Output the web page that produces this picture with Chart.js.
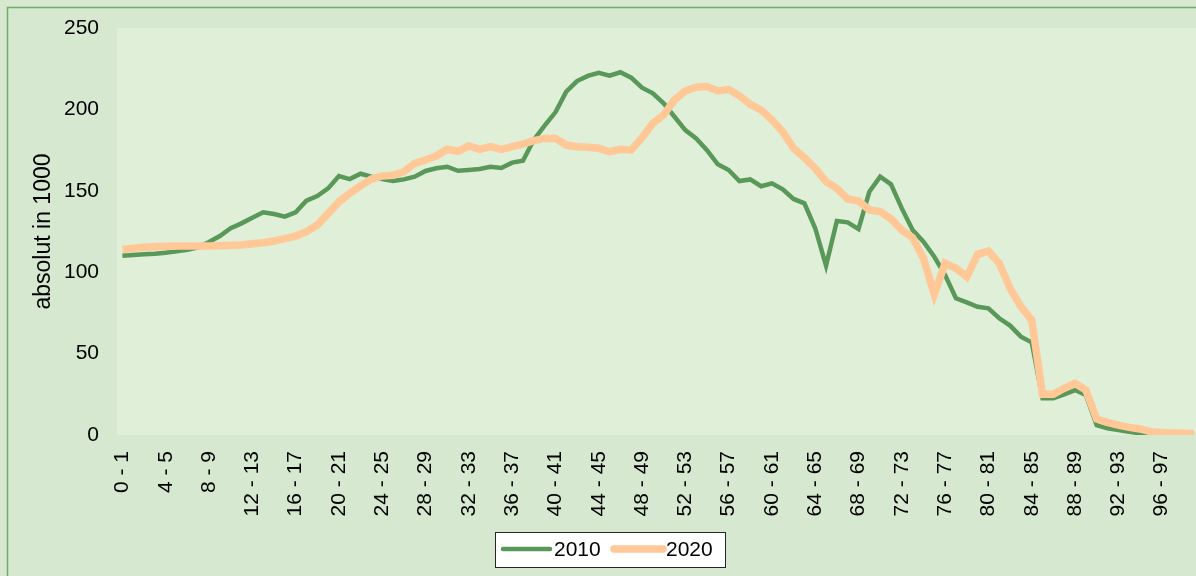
<!DOCTYPE html>
<html>
<head>
<meta charset="utf-8">
<script src="https://cdn.jsdelivr.net/npm/chart.js@4/dist/chart.umd.min.js"></script>
<style>
  html, body { margin: 0; padding: 0; overflow: hidden; background: #d6e8cf; }
  #wrap { position: relative; width: 1210px; height: 576px; }
  canvas { display: block; }
</style>
</head>
<body>
<div id="wrap"><canvas id="myChart" width="1210" height="576"></canvas></div>
<script>
// age groups "0 - 1" ... "99 - 100"
const ageGroups = Array.from({ length: 100 }, (_, i) => i + ' - ' + (i + 1));

const years = ['2010', '2020'];

// absolute numbers in 1000
const pop2010 = [
  110.1, 110.6, 111.0, 111.4, 112.0, 112.8, 113.8, 115.3, 118.5, 122.2,
  127.0, 130.0, 133.5, 136.8, 135.7, 134.1, 136.8, 143.9, 146.8, 151.5,
  159.1, 157.2, 160.5, 158.7, 157.2, 156.0, 157.0, 158.7, 162.2, 163.8,
  164.8, 162.3, 162.8, 163.4, 164.8, 164.0, 167.3, 168.5, 181.2, 190.0,
  198.2, 210.9, 217.4, 220.6, 222.4, 220.7, 222.8, 219.5, 213.3, 209.9,
  203.7, 195.5, 187.3, 182.2, 175.0, 166.3, 162.8, 156.0, 157.0, 152.8,
  154.6, 150.9, 145.0, 142.3, 127.0, 104.0, 131.4, 130.6, 126.5, 149.4,
  158.7, 154.0, 139.2, 125.9, 118.7, 109.5, 98.3, 84.0, 81.5, 78.8,
  77.8, 71.7, 67.2, 60.4, 56.9, 22.5, 22.5, 25.0, 27.6, 24.6,
  6.1, 4.1, 3.1, 2.0, 1.0, 0.8, 0.5, 0.3, 0.2, 0.1
];
const pop2020 = [
  114.0, 114.7, 115.3, 115.7, 115.9, 116.1, 116.1, 116.1, 116.1, 116.3,
  116.5, 116.7, 117.5, 118.1, 119.2, 120.6, 122.2, 124.9, 129.0, 136.0,
  143.3, 148.5, 153.0, 157.2, 159.1, 159.5, 161.7, 166.9, 168.9, 171.4,
  175.5, 174.3, 177.5, 175.5, 177.1, 175.5, 177.1, 178.7, 180.8, 182.2,
  182.2, 178.1, 177.1, 176.7, 176.1, 174.0, 175.5, 175.1, 182.6, 191.5,
  196.6, 205.8, 211.3, 213.6, 214.0, 211.3, 212.3, 208.4, 203.1, 199.6,
  193.5, 186.3, 176.1, 170.3, 163.8, 155.6, 151.5, 145.0, 143.7, 138.2,
  137.2, 132.7, 125.9, 121.2, 108.5, 86.4, 105.5, 102.4, 97.2, 111.0,
  113.0, 105.5, 90.1, 78.8, 70.6, 25.0, 25.0, 28.7, 31.8, 27.6,
  9.8, 7.8, 6.1, 4.7, 3.7, 2.0, 1.5, 1.2, 1.0, 0.8
];

const yTicks = [0, 50, 100, 150, 200, 250];

const FONT = 'Liberation Sans, Arial, sans-serif';

const bgPlugin = {
  id: 'bg',
  beforeDraw(chart) {
    const { ctx, chartArea: a, width, height } = chart;
    ctx.save();
    ctx.fillStyle = '#d6e8cf';
    ctx.fillRect(0, 0, width, height);
    ctx.fillStyle = '#dfefd8';
    ctx.fillRect(a.left, a.top, a.right - a.left, a.bottom - a.top);
    ctx.strokeStyle = '#72aa6e';
    ctx.lineWidth = 1.5;
    ctx.strokeRect(7.5, 7.5, width + 20, height + 20);
    ctx.restore();
  }
};

const legendPlugin = {
  id: 'boxLegend',
  afterDraw(chart) {
    const { ctx } = chart;
    const x = 495.5, y = 532.5, w = 230, h = 35;
    ctx.save();
    ctx.fillStyle = '#ffffff';
    ctx.fillRect(x, y, w, h);
    ctx.strokeStyle = '#262626';
    ctx.lineWidth = 1;
    ctx.strokeRect(x, y, w, h);
    const items = [
      { x1: 503, x2: 550, tx: 554 },
      { x1: 614, x2: 663, tx: 666 }
    ];
    ctx.font = '21px ' + FONT;
    ctx.textBaseline = 'middle';
    ctx.lineCap = 'round';
    chart.data.datasets.forEach((ds, i) => {
      const it = items[i];
      ctx.strokeStyle = ds.borderColor;
      ctx.lineWidth = ds.borderWidth;
      ctx.beginPath();
      ctx.moveTo(it.x1, 549);
      ctx.lineTo(it.x2, 549);
      ctx.stroke();
      ctx.fillStyle = '#000';
      ctx.fillText(ds.label, it.tx, 550);
    });
    ctx.restore();
  }
};

new Chart(document.getElementById('myChart'), {
  type: 'line',
  data: {
    labels: ageGroups,
    datasets: [
      {
        label: years[0],
        data: pop2010,
        borderColor: '#5a985a',
        borderWidth: 4.5,
        pointRadius: 0,
        tension: 0,
        order: 2
      },
      {
        label: years[1],
        data: pop2020,
        borderColor: '#ffc896',
        borderWidth: 7.5,
        pointRadius: 0,
        tension: 0,
        order: 1
      }
    ]
  },
  options: {
    responsive: false,
    animation: false,
    layout: { padding: { left: 0, top: 28, right: 10.5, bottom: 0 } },
    plugins: {
      legend: { display: false },
      tooltip: { enabled: false }
    },
    scales: {
      x: {
        offset: true,
        grid: { display: false, drawTicks: false },
        border: { display: false },
        ticks: {
          autoSkip: false,
          minRotation: 90,
          maxRotation: 90,
          padding: 16,
          color: '#000',
          font: { family: FONT, size: 21 },
          callback: function (value, index) {
            return index % 4 === 0 ? this.getLabelForValue(value) : '';
          }
        },
        afterFit(scale) {
          scale.height = 141;
          scale.paddingLeft = 0;
          scale.paddingRight = 0;
        }
      },
      y: {
        min: 0,
        max: 250,
        afterBuildTicks(scale) { scale.ticks = yTicks.map(v => ({ value: v })); },
        grid: { display: false, drawTicks: false },
        border: { display: false },
        ticks: {
          padding: 18,
          color: '#000',
          font: { family: FONT, size: 21 }
        },
        title: {
          display: true,
          text: 'absolut in 1000',
          color: '#000',
          font: { family: FONT, size: 23 },
          padding: { top: 30, bottom: 0 }
        },
        afterFit(scale) {
          scale.width = 117;
          scale.paddingTop = 0;
          scale.paddingBottom = 0;
        }
      }
    }
  },
  plugins: [bgPlugin, legendPlugin]
});
</script>
</body>
</html>
